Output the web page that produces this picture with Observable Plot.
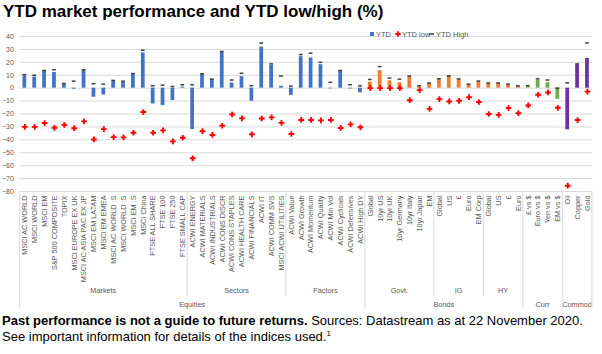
<!DOCTYPE html>
<html>
<head>
<meta charset="utf-8">
<script src="https://cdn.jsdelivr.net/npm/d3@7"></script>
<script src="https://cdn.jsdelivr.net/npm/@observablehq/plot@0.6"></script>
<style>
  html, body { margin: 0; padding: 0; background: #fff; }
  #wrap { position: relative; width: 602px; height: 354px; overflow: hidden; font-family: "Liberation Sans", Arial, sans-serif; }
  #title { height: 24px; line-height: 24px; font-size: 17px; font-weight: bold; color: #000; padding-left: 3px; white-space: nowrap; }
  #chart svg { display: block; }
  #foot { font-size: 13px; line-height: 16px; color: #000; padding-left: 2px; white-space: nowrap; }
  #foot sup { font-size: 8px; line-height: 0; vertical-align: 5px; }
  #legend { position: absolute; left: 368px; top: 26px; }
</style>
</head>
<body>
<div id="wrap">
  <div id="title">YTD market performance and YTD low/high (%)</div>
  <div id="chart"></div>
  <div id="foot"><b>Past performance is not a guide to future returns.</b> Sources: Datastream as at 22 November 2020.<br>See important information for details of the indices used.<sup>1</sup></div>
  <div id="legend"></div>
</div>
<script>
// ---------- data ----------
const categories = [
  "MSCI AC WORLD","MSCI WORLD","MSCI EM","S&P 500 COMPOSITE","TOPIX","MSCI EUROPE EX UK","MSCI AC ASIA PAC EX JP",
  "MSCI EM LATAM","MSCI EM EMEA","MSCI AC WORLD :S","MSCI WORLD :S","MSCI EM :S","MSCI China","FTSE ALL SHARE",
  "FTSE 100","FTSE 250","FTSE SMALL CAP",
  "ACWI ENERGY","ACWI MATERIALS","ACWI INDUSTRIALS","ACWI CONS DISCR","ACWI CONS STAPLES","ACWI HEALTH CARE",
  "ACWI FINANCIALS","ACWI IT","ACWI COMM SVS","MSCI ACWI UTILITIES",
  "ACWI Value","ACWI Growth","ACWI Momentum","ACWI Quality","ACWI Min Vol","ACWI Cyclicals","ACWI Defensives","ACWI High DY",
  "Global","10yr US","10yr UK","10yr Germany","10yr Italy","10yr Japan","EM",
  "Global","US","£","Euro","EM Corp",
  "Global","US","£","Euro",
  "£ vs $","Euro vs $","Yen vs $","EM vs $",
  "Oil","Copper","Gold"
];
const ytd = [
  9.5, 8.6, 13.1, 12.1, 2.9, -0.8, 13.9, -7.0, -5.3, 5.5, 4.7, 10.9, 27.3, -12.2, -13.5, -9.6, 0.8,
  -32.1, 10.7, 6.8, 27.9, 4.0, 8.9, -10.1, 31.8, 17.6, 1.5,
  -5.7, 24.4, 23.4, 18.2, -0.5, 13.6, -0.6, -3.6,
  4.6, 13.6, 5.7, 4.2, 8.9, 1.0, 3.5,
  6.8, 9.2, 6.6, 2.7, 5.0,
  3.7, 3.7, 2.8, 1.4,
  1.2, 6.2, 4.2, -8.7,
  -32.3, 18.3, 23.1
];
const ytdLow = [
  -30, -30, -27, -30.7, -28.4, -31, -25.7, -39.7, -31.7, -37.9, -38.1, -34.5, -18.5, -34.5, -32.7, -41.2, -38.4,
  -54.3, -33.3, -36.2, -29.1, -20.4, -23.4, -35.7, -23.5, -22.6, -26.9,
  -35.5, -24.6, -24.6, -24.9, -24.6, -30.8, -28, -30.3,
  0, 0, 0, 0, -9.3, -1.5, -16,
  -8.5, -10.3, -9.8, -7, -10.7,
  -20, -20.7, -15.4, -19.4,
  -13.4, -5.1, -3.3, -15.2,
  -75.5, -24.7, -2.7
];
const ytdHigh = [
  10.5, 10, 13.7, 14.2, 3.6, 5.4, 14.2, 3.4, 3.1, 6, 5.4, 11.3, 29.4, 1.8, 2.3, 1.3, 2.6,
  2.6, 11.1, 7, 28.4, 6.3, 11.5, 1.9, 34.9, 18.8, 9.4,
  1.6, 26, 27.1, 20, 4.5, 13.7, 2.6, 1.8,
  6.7, 16.7, 7.8, 7.0, 9.4, 1.9, 4.0,
  7.3, 9.5, 7.2, 3.1, 5.5,
  4.0, 4.0, 3.1, 1.8,
  1.9, 7.2, 6.3, 0,
  4.1, 18.8, 35
];
const subGroupNames = ["Markets","Sectors","Factors","Govt.","IG","HY","",""];
const subGroupCounts = [17, 10, 8, 7, 5, 4, 4, 3];
const mainGroupNames = ["Equities","Bonds","Curr","Commod"];
const mainGroupCounts = [35, 16, 4, 3];
const yTicks = [40, 30, 20, 10, 0, -10, -20, -30, -40, -50, -60, -70, -80];
const legendLabels = ["YTD", "YTD low", "YTD High"];

// ---------- build rows ----------
const mainOf = [];
mainGroupNames.forEach((g, j) => { for (let k = 0; k < mainGroupCounts[j]; k++) mainOf.push(g); });
const rows = categories.map((name, i) => ({
  key: String(i), name, ytd: ytd[i], low: ytdLow[i], high: ytdHigh[i], main: mainOf[i]
}));
const palette = ["#4472C4", "#ED7D31", "#70AD47", "#7030A0"];

const chart = Plot.plot({
  width: 602, height: 289,
  marginTop: 12, marginBottom: 122, marginLeft: 19.4, marginRight: 10.1,
  style: { fontFamily: "'Liberation Sans', Arial, sans-serif", color: "#595959", background: "transparent", overflow: "visible" },
  x: { type: "band", domain: rows.map(d => d.key), paddingInner: 0.62, paddingOuter: 0.31 },
  y: { domain: [-80, 40] },
  color: { domain: mainGroupNames, range: palette },
  marks: [
    Plot.ruleY(yTicks, { stroke: "#d9d9d9", strokeWidth: 1 }),
    Plot.axisY({ ticks: yTicks, tickSize: 0, tickPadding: 6, fontSize: 7, label: null }),
    Plot.axisX({ tickRotate: -90, tickSize: 0, tickPadding: 4, fontSize: 7.3, label: null,
                 tickFormat: k => rows[+k].name }),
    Plot.barY(rows, { x: "key", y: "ytd", fill: "main" }),
    Plot.tickY(rows, { x: "key", y: "high", stroke: "#404040", strokeWidth: 1.5 }),
    Plot.dot(rows, { x: "key", y: "low", symbol: "cross", r: 2.4, fill: "#ff0000", stroke: "none" })
  ]
});
document.getElementById("chart").appendChild(chart);

// ---------- multi-level category axis (group labels + dividers) ----------
const svg = d3.select(chart);
const xs = chart.scale("x"), ys = chart.scale("y");
const half = (xs.step - xs.bandwidth) / 2;
const leftOf = i => xs.apply(String(i)) - half;
const rightOf = i => xs.apply(String(i)) + xs.bandwidth + half;
const y0 = ys.apply(-80);
const g = svg.append("g").attr("font-size", 7.3).attr("fill", "#595959").attr("text-anchor", "middle");

const mainBounds = new Set([0]);
let acc = 0;
mainGroupNames.forEach((name, j) => {
  const a = acc, b = acc + mainGroupCounts[j] - 1;
  acc += mainGroupCounts[j];
  mainBounds.add(acc);
  g.append("text").attr("x", (leftOf(a) + rightOf(b)) / 2).attr("y", y0 + 114).attr("dy", "0.32em").text(name);
});
acc = 0;
const subBounds = new Set();
subGroupNames.forEach((name, j) => {
  const a = acc, b = acc + subGroupCounts[j] - 1;
  acc += subGroupCounts[j];
  subBounds.add(acc);
  if (name) g.append("text").attr("x", (leftOf(a) + rightOf(b)) / 2).attr("y", y0 + 100).attr("dy", "0.32em").text(name);
});
const n = categories.length;
const allBounds = new Set([...mainBounds, ...subBounds]);
allBounds.forEach(i => {
  const x = i < n ? leftOf(i) : rightOf(n - 1);
  const long = mainBounds.has(i);
  g.append("line").attr("x1", x).attr("x2", x).attr("y1", y0).attr("y2", y0 + (long ? 117 : 105))
    .attr("stroke", "#d9d9d9").attr("stroke-width", 1);
});

// ---------- legend ----------
const leg = d3.select("#legend").append("svg").attr("width", 110).attr("height", 12)
  .attr("font-family", "'Liberation Sans', Arial, sans-serif").attr("font-size", 7.5).attr("fill", "#595959");
const legX = [0, 26, 60];
leg.append("rect").attr("x", legX[0] + 2).attr("y", 4).attr("width", 4).attr("height", 4).attr("fill", palette[0]);
leg.append("path").attr("d", d3.symbol(d3.symbolCross, 16)()).attr("transform", `translate(${legX[1] + 4},6)`).attr("fill", "#ff0000");
leg.append("line").attr("x1", legX[2] + 1).attr("x2", legX[2] + 6).attr("y1", 6).attr("y2", 6).attr("stroke", "#404040").attr("stroke-width", 1.5);
legendLabels.forEach((t, i) => leg.append("text").attr("x", legX[i] + 8).attr("y", 6).attr("dy", "0.35em").text(t));
</script>
</body>
</html>
